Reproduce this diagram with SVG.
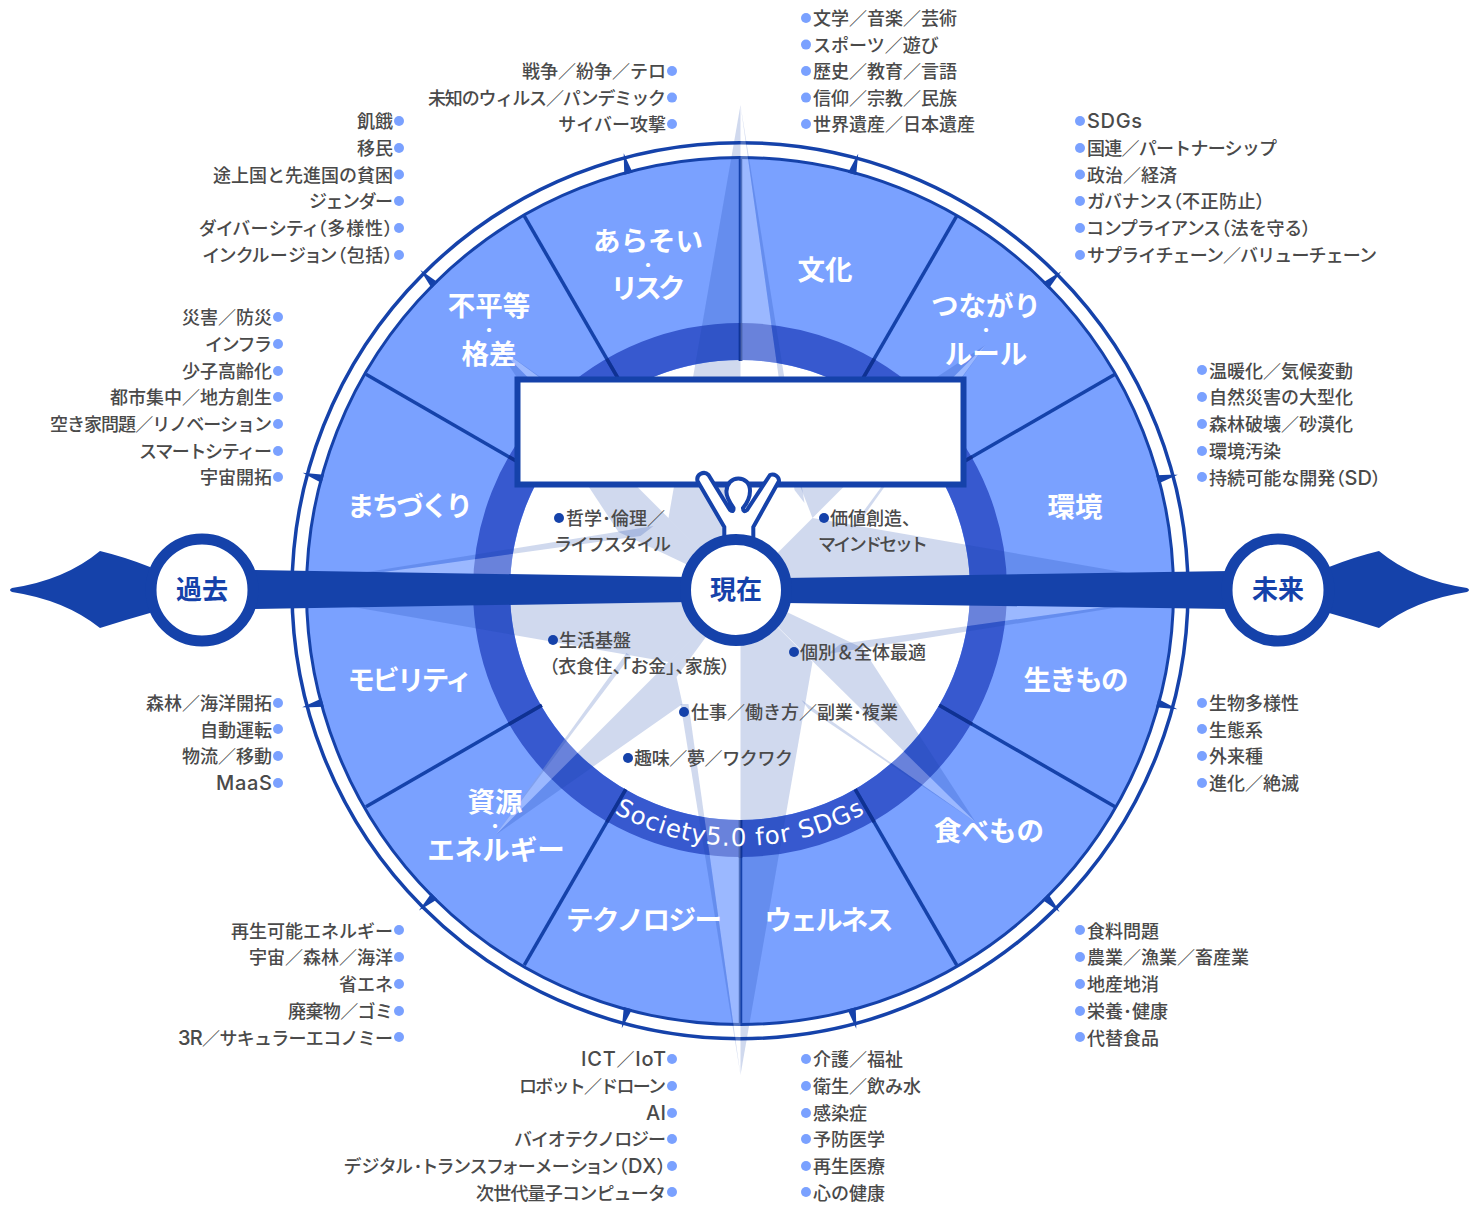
<svg xmlns="http://www.w3.org/2000/svg" xmlns:xlink="http://www.w3.org/1999/xlink" width="1482" height="1205" viewBox="0 0 1482 1205">
<style>
text{font-family:"Inter","Noto Sans CJK JP","Noto Sans",sans-serif}
.i{font-size:18px;font-weight:500;fill:#4a4a4a;transform:translateY(1px)}
.n{font-size:18px;font-weight:500;fill:#4a4a4a;transform:translateY(1px)}
.l{font-size:20px}
.e{text-anchor:end}
.d{fill:#7aa1ff}
.b{fill:#1542aa}
.s{font-size:27.5px;font-weight:700;fill:#fff;text-anchor:middle}
.m{font-size:16px;font-weight:700;fill:#fff;text-anchor:middle}
.t{font-size:26px;font-weight:700;fill:#1542aa;text-anchor:middle}
.p{font-feature-settings:"palt"}
.dk{fill:#1542aa;fill-opacity:.2}
.lt{fill:#fff;fill-opacity:.25}
.c{fill:#fff;stroke:#1542aa;stroke-width:11}
</style>
<defs>
<polygon id="tick" points="736,159 744.5,159 741,138 739,146" fill="#1542aa"/>
<g id="spoke"><line x1="740.5" y1="361" x2="740.5" y2="158" stroke="#1542aa" stroke-width="3.5"/><line x1="740.5" y1="361" x2="740.5" y2="323" stroke="#0f3192" stroke-width="3.5"/></g>
<polygon id="lmain" class="lt" points="0,0 -54,100 0,485"/>
<polygon id="dmain" class="dk" points="0,0 72,72 0,485"/>
<polygon id="smain" class="dk" points="-64,87 -54,100 0,485"/>
</defs>
<g id="wheel">
<circle cx="740" cy="590.7" r="448" fill="#fff" stroke="#1542aa" stroke-width="3.5"/>
<circle cx="740" cy="591" r="433.5" fill="#7aa1ff" stroke="#1542aa" stroke-width="3"/>
<use xlink:href="#tick" transform="rotate(-15 740 591)"/><use xlink:href="#tick" transform="rotate(15 740 591)"/><use xlink:href="#tick" transform="rotate(45 740 591)"/><use xlink:href="#tick" transform="rotate(75 740 591)"/><use xlink:href="#tick" transform="rotate(105 740 591)"/><use xlink:href="#tick" transform="rotate(135 740 591)"/><use xlink:href="#tick" transform="rotate(165 740 591)"/><use xlink:href="#tick" transform="rotate(195 740 591)"/><use xlink:href="#tick" transform="rotate(225 740 591)"/><use xlink:href="#tick" transform="rotate(255 740 591)"/><use xlink:href="#tick" transform="rotate(285 740 591)"/><use xlink:href="#tick" transform="rotate(315 740 591)"/>
<circle cx="740" cy="590" r="230" fill="#fff"/>
<circle cx="740" cy="590" r="248.5" fill="none" stroke="#3759cf" stroke-width="37"/>
<use xlink:href="#spoke"/><use xlink:href="#spoke" transform="rotate(30 740.5 590.5)"/><use xlink:href="#spoke" transform="rotate(60 740.5 590.5)"/><use xlink:href="#spoke" transform="rotate(90 740.5 590.5)"/><use xlink:href="#spoke" transform="rotate(120 740.5 590.5)"/><use xlink:href="#spoke" transform="rotate(150 740.5 590.5)"/><use xlink:href="#spoke" transform="rotate(180 740.5 590.5)"/><use xlink:href="#spoke" transform="rotate(210 740.5 590.5)"/><use xlink:href="#spoke" transform="rotate(240 740.5 590.5)"/><use xlink:href="#spoke" transform="rotate(270 740.5 590.5)"/><use xlink:href="#spoke" transform="rotate(300 740.5 590.5)"/><use xlink:href="#spoke" transform="rotate(330 740.5 590.5)"/>
</g>
<g id="star" transform="translate(740.5 590)">
<use xlink:href="#lmain"/><use xlink:href="#lmain" transform="rotate(90)"/><use xlink:href="#lmain" transform="rotate(180)"/><use xlink:href="#lmain" transform="rotate(270)"/>
<polygon class="lt" points="70,70 61,110 235,232"/><polygon class="lt" points="-70,70 -114,63 -245,245"/><polygon class="lt" points="-70,-70 -61,-110 -245,-245"/><polygon class="lt" points="70,-70 110,-61 245,-245"/>
<use xlink:href="#dmain"/><use xlink:href="#dmain" transform="rotate(90)"/><use xlink:href="#dmain" transform="rotate(180)"/><use xlink:href="#dmain" transform="rotate(270)"/>
<polygon class="dk" points="-60,114 -52,114 0,485"/><use xlink:href="#smain" transform="rotate(90)"/><use xlink:href="#smain" transform="rotate(180)"/><use xlink:href="#smain" transform="rotate(270)"/>
<polygon class="dk" points="0,0 122,58 235,232"/><polygon class="dk" points="61,110 68,119 235,232"/>
<polygon class="dk" points="0,0 -64,87 -58,114 -245,245"/><polygon class="dk" points="-114,63 -110,66 -245,245"/>
<polygon class="dk" points="0,0 -122,-58 -245,-245"/><polygon class="dk" points="-61,-110 -68,-119 -245,-245"/>
<polygon class="dk" points="72,-72 60,-103 58,-122 245,-245"/><polygon class="dk" points="110,-61 119,-68 245,-245"/>
</g>
<g id="connectors" fill="#1542aa">
<polygon points="250,570 690,577 690,602 250,609"/>
<polygon points="785,578 1230,571 1230,609 785,603"/>
<path d="M150,567Q125,557 100,551Q65,580 12,588Q8,590 12,592Q65,600 100,628Q125,620 150,613Z"/>
<path d="M1329,567Q1354,557 1379,551Q1414,580 1467,588Q1471,590 1467,592Q1414,600 1379,628Q1354,620 1329,613Z"/>
</g>
<g id="society">
<path id="arc" d="M518.3,718A256,256 0 0 0 961.7,718" fill="none"/>
<text fill="#fff" letter-spacing="1" style="font-family:'DejaVu Sans',sans-serif;font-size:24.5px"><textPath xlink:href="#arc" startOffset="50%" text-anchor="middle">Society5.0 for SDGs</textPath></text>
</g>
<g id="board"><rect x="517.5" y="379.5" width="446" height="105" fill="#fff" stroke="#1542aa" stroke-width="6"/></g>
<g id="person"><path d="M724.3,540L724.3,527L697.5,481A6.5,6.5 0 0 1 708.5,475L730,510Q734,513 733.5,508C728,500 726,495 726.5,491C727,483 732,478.5 738.3,478.5C745,478.5 750,483 750,491C750,495 748,502 743,508Q743,513 747,510L770,475A6.5,6.5 0 0 1 779,481L753.3,527L753.3,540Z" fill="#fff" stroke="#1542aa" stroke-width="4"/></g>
<g id="now"><circle class="c" cx="736" cy="590" r="50.5"/><text class="t" x="736" y="599">現在</text></g>
<g id="past"><circle class="c" cx="202" cy="590" r="51"/><text class="t" x="202" y="599">過去</text></g>
<g id="future"><circle class="c" cx="1278" cy="590" r="51"/><text class="t" x="1278" y="599">未来</text></g>
<g id="sector-bunka"><text class="s" x="825" y="280">文化</text></g>
<g id="sector-arasoi"><text class="s" x="648" y="251">あらそい</text><text class="m" x="648" y="271">・</text><text class="s" x="648" y="298" textLength="75">リスク</text></g>
<g id="sector-tsunagari"><text class="s" x="986" y="316">つながり</text><text class="m" x="986" y="336">・</text><text class="s" x="986" y="364">ルール</text></g>
<g id="sector-fubyodo"><text class="s" x="489" y="316">不平等</text><text class="m" x="489" y="336">・</text><text class="s" x="489" y="364">格差</text></g>
<g id="sector-kankyo"><text class="s" x="1075" y="517">環境</text></g>
<g id="sector-machi"><text class="s" x="410" y="516" textLength="126">まちづくり</text></g>
<g id="sector-ikimono"><text class="s" x="1076" y="690" textLength="105">生きもの</text></g>
<g id="sector-mobility"><text class="s" x="410" y="690" textLength="125">モビリティ</text></g>
<g id="sector-tabemono"><text class="s" x="989" y="841">食べもの</text></g>
<g id="sector-shigen"><text class="s" x="495" y="812">資源</text><text class="m" x="495" y="832">・</text><text class="s" x="496" y="860">エネルギー</text></g>
<g id="sector-wellness"><text class="s" x="829" y="930" textLength="129">ウェルネス</text></g>
<g id="sector-tech"><text class="s" x="644" y="930" textLength="156">テクノロジー</text></g>
<g id="inner-philosophy"><circle class="b" cx="559" cy="518" r="5"/><text class="n" x="566" y="524">哲学･倫理／</text><text class="n" x="554" y="550" textLength="117">ライフスタイル</text></g>
<g id="inner-value"><circle class="b" cx="824" cy="518" r="5"/><text class="n" x="830" y="524">価値創造、</text><text class="n" x="818" y="550" textLength="110">マインドセット</text></g>
<g id="inner-life"><circle class="b" cx="553" cy="640" r="5"/><text class="n" x="559" y="646">生活基盤</text><text class="n p" x="549" y="672" textLength="181">（衣食住、「お金」、家族）</text></g>
<g id="inner-opt"><circle class="b" cx="794" cy="652" r="5"/><text class="n" x="800" y="658">個別＆全体最適</text></g>
<g id="inner-work"><circle class="b" cx="684" cy="712" r="5"/><text class="n" x="691" y="718">仕事／働き方／副業･複業</text></g>
<g id="inner-hobby"><circle class="b" cx="628" cy="758" r="5"/><text class="n" x="634" y="764" textLength="159">趣味／夢／ワクワク</text></g>
<g id="list-culture"><g class="d"><circle cx="806" cy="18" r="5"/><circle cx="806" cy="44.6" r="5"/><circle cx="806" cy="71" r="5"/><circle cx="806" cy="97.6" r="5"/><circle cx="806" cy="124" r="5"/></g>
<text class="i" x="813" y="24">文学／音楽／芸術</text><text class="i" x="813" y="51">スポーツ／遊び</text><text class="i" x="813" y="77">歴史／教育／言語</text><text class="i" x="813" y="104">信仰／宗教／民族</text><text class="i" x="813" y="130">世界遺産／日本遺産</text></g>
<g id="list-risk"><g class="d"><circle cx="672" cy="71" r="5"/><circle cx="672" cy="97.6" r="5"/><circle cx="672" cy="124" r="5"/></g>
<text class="i e" x="666" y="77">戦争／紛争／テロ</text><text class="i e" x="666" y="104" textLength="238">未知のウィルス／パンデミック</text><text class="i e" x="666" y="130">サイバー攻撃</text></g>
<g id="list-inequality"><g class="d"><circle cx="399" cy="121" r="5"/><circle cx="399" cy="148" r="5"/><circle cx="399" cy="174.5" r="5"/><circle cx="399" cy="201" r="5"/><circle cx="399" cy="228" r="5"/><circle cx="399" cy="255" r="5"/></g>
<text class="i e" x="393" y="127">飢餓</text><text class="i e" x="393" y="154">移民</text><text class="i e" x="393" y="181">途上国と先進国の貧困</text><text class="i e" x="393" y="207" textLength="84">ジェンダー</text><text class="i e p" x="393" y="234" textLength="194">ダイバーシティ（多様性）</text><text class="i e p" x="393" y="261" textLength="190">インクルージョン（包括）</text></g>
<g id="list-town"><g class="d"><circle cx="278" cy="317" r="5"/><circle cx="278" cy="344" r="5"/><circle cx="278" cy="371" r="5"/><circle cx="278" cy="397" r="5"/><circle cx="278" cy="424" r="5"/><circle cx="278" cy="451" r="5"/><circle cx="278" cy="477" r="5"/></g>
<text class="i e" x="272" y="323">災害／防災</text><text class="i e" x="272" y="350" textLength="67">インフラ</text><text class="i e" x="272" y="377">少子高齢化</text><text class="i e" x="272" y="403">都市集中／地方創生</text><text class="i e" x="272" y="430" textLength="222">空き家問題／リノベーション</text><text class="i e" x="272" y="457" textLength="133">スマートシティー</text><text class="i e" x="272" y="483">宇宙開拓</text></g>
<g id="list-mobility"><g class="d"><circle cx="278" cy="703" r="5"/><circle cx="278" cy="729" r="5"/><circle cx="278" cy="756" r="5"/><circle cx="278" cy="783" r="5"/></g>
<text class="i e" x="272" y="709">森林／海洋開拓</text><text class="i e" x="272" y="736">自動運転</text><text class="i e" x="272" y="762">物流／移動</text><text class="i e l" x="272" y="789" textLength="56">MaaS</text></g>
<g id="list-energy"><g class="d"><circle cx="399" cy="930" r="5"/><circle cx="399" cy="957" r="5"/><circle cx="399" cy="984" r="5"/><circle cx="399" cy="1011" r="5"/><circle cx="399" cy="1037" r="5"/></g>
<text class="i e" x="393" y="937">再生可能エネルギー</text><text class="i e" x="393" y="963">宇宙／森林／海洋</text><text class="i e" x="393" y="990">省エネ</text><text class="i e" x="393" y="1017" textLength="105">廃棄物／ゴミ</text><text class="i e" x="393" y="1044" textLength="215"><tspan class="l">3R</tspan>／サキュラーエコノミー</text></g>
<g id="list-tech"><g class="d"><circle cx="672" cy="1059" r="5"/><circle cx="672" cy="1086" r="5"/><circle cx="672" cy="1113" r="5"/><circle cx="672" cy="1139" r="5"/><circle cx="672" cy="1166" r="5"/><circle cx="672" cy="1192" r="5"/></g>
<text class="i e" x="666" y="1065" textLength="85"><tspan class="l">ICT</tspan>／<tspan class="l">IoT</tspan></text><text class="i e" x="666" y="1092" textLength="147">ロボット／ドローン</text><text class="i e l" x="666" y="1119" textLength="20">AI</text><text class="i e" x="666" y="1145" textLength="152">バイオテクノロジー</text><text class="i e p" x="666" y="1172" textLength="322">デジタル･トランスフォーメーション（<tspan class="l">DX</tspan>）</text><text class="i e" x="666" y="1199" textLength="190">次世代量子コンピュータ</text></g>
<g id="list-wellness"><g class="d"><circle cx="806" cy="1059" r="5"/><circle cx="806" cy="1086" r="5"/><circle cx="806" cy="1113" r="5"/><circle cx="806" cy="1139" r="5"/><circle cx="806" cy="1166" r="5"/><circle cx="806" cy="1192" r="5"/></g>
<text class="i" x="813" y="1065">介護／福祉</text><text class="i" x="813" y="1092">衛生／飲み水</text><text class="i" x="813" y="1119">感染症</text><text class="i" x="813" y="1145">予防医学</text><text class="i" x="813" y="1172">再生医療</text><text class="i" x="813" y="1199">心の健康</text></g>
<g id="list-food"><g class="d"><circle cx="1080" cy="930" r="5"/><circle cx="1080" cy="957" r="5"/><circle cx="1080" cy="984" r="5"/><circle cx="1080" cy="1011" r="5"/><circle cx="1080" cy="1037" r="5"/></g>
<text class="i" x="1087" y="937">食料問題</text><text class="i" x="1087" y="963">農業／漁業／畜産業</text><text class="i" x="1087" y="990">地産地消</text><text class="i" x="1087" y="1017">栄養･健康</text><text class="i" x="1087" y="1044">代替食品</text></g>
<g id="list-links"><g class="d"><circle cx="1080" cy="121" r="5"/><circle cx="1080" cy="148" r="5"/><circle cx="1080" cy="174.5" r="5"/><circle cx="1080" cy="201" r="5"/><circle cx="1080" cy="228" r="5"/><circle cx="1080" cy="255" r="5"/></g>
<text class="i l" x="1087" y="127" textLength="55">SDGs</text><text class="i" x="1087" y="154" textLength="190">国連／パートナーシップ</text><text class="i" x="1087" y="181">政治／経済</text><text class="i p" x="1087" y="207" textLength="178">ガバナンス（不正防止）</text><text class="i p" x="1087" y="234" textLength="224">コンプライアンス（法を守る）</text><text class="i" x="1087" y="261" textLength="290">サプライチェーン／バリューチェーン</text></g>
<g id="list-env"><g class="d"><circle cx="1202" cy="370" r="5"/><circle cx="1202" cy="397" r="5"/><circle cx="1202" cy="424" r="5"/><circle cx="1202" cy="451" r="5"/><circle cx="1202" cy="477" r="5"/></g>
<text class="i" x="1209" y="377">温暖化／気候変動</text><text class="i" x="1209" y="403">自然災害の大型化</text><text class="i" x="1209" y="430">森林破壊／砂漠化</text><text class="i" x="1209" y="457">環境汚染</text><text class="i p" x="1209" y="484" textLength="172">持続可能な開発（<tspan class="l">SD</tspan>）</text></g>
<g id="list-life"><g class="d"><circle cx="1202" cy="703" r="5"/><circle cx="1202" cy="729" r="5"/><circle cx="1202" cy="756" r="5"/><circle cx="1202" cy="783" r="5"/></g>
<text class="i" x="1209" y="709">生物多様性</text><text class="i" x="1209" y="736">生態系</text><text class="i" x="1209" y="762">外来種</text><text class="i" x="1209" y="789">進化／絶滅</text></g>
</svg>
